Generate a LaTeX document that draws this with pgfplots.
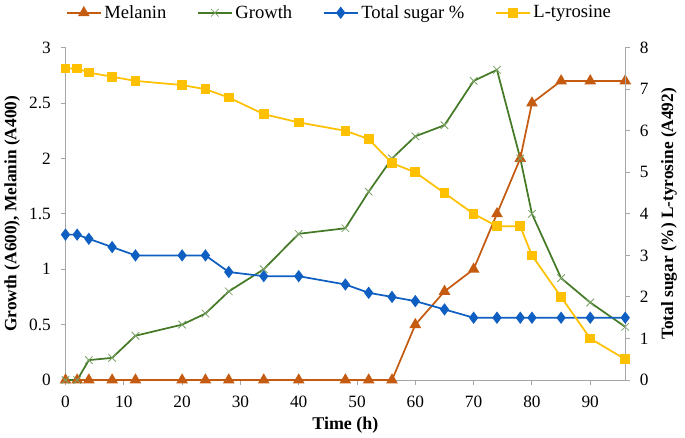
\documentclass[border=0pt]{standalone}
\usepackage{pgfplots}
\pgfplotsset{compat=1.18}
\usepackage{fontspec}
\setmainfont{Liberation Serif}

\definecolor{melc}{HTML}{C55A11}
\definecolor{growc}{HTML}{447A26}
\definecolor{sugarc}{HTML}{0F5FC2}
\definecolor{tyrc}{HTML}{FFC000}

% time (h) vs value
\pgfplotstableread{
t   mel
0   0
2   0
4   0
8   0
12  0
20  0
24  0
28  0
34  0
40  0
48  0
52  0
56  0
60  0.5
65  0.8
70  1.0
74  1.5
78  2.0
80  2.5
85  2.7
90  2.7
96  2.7
}\melanin

\pgfplotstableread{
t   g
0   0
2   0
4   0.18
8   0.2
12  0.4
20  0.5
24  0.6
28  0.8
34  1.0
40  1.32
48  1.37
52  1.7
56  2.0
60  2.2
65  2.3
70  2.7
74  2.8
78  2.0
80  1.5
85  0.92
90  0.7
96  0.48
}\growth

\pgfplotstableread{
t   s
0   3.5
2   3.5
4   3.4
8   3.2
12  3.0
20  3.0
24  3.0
28  2.6
34  2.5
40  2.5
48  2.3
52  2.1
56  2.0
60  1.9
65  1.7
70  1.5
74  1.5
78  1.5
80  1.5
85  1.5
90  1.5
96  1.5
}\sugar

\pgfplotstableread{
t   y
0   7.5
2   7.5
4   7.4
8   7.3
12  7.2
20  7.1
24  7.0
28  6.8
34  6.4
40  6.2
48  6.0
52  5.8
56  5.22
60  5.0
65  4.5
70  4.0
74  3.7
78  3.7
80  3.0
85  2.0
90  1.0
96  0.5
}\tyrosine

\begin{document}
\begin{tikzpicture}
\pgfplotsset{
  every axis/.append style={
    scale only axis, width=421pt, height=250pt,
    xmin=0, xmax=96,
    font=\fontsize{13}{15}\selectfont,
    tick align=outside, major tick length=3.5pt,
    axis line style={gray!70, line width=0.7pt},
    tick style={gray!70, line width=0.7pt},
    /pgf/number format/assume math mode=true,
    clip=false,
  },
  melst/.style={color=melc, line width=1.3pt, mark=triangle*, mark size=3.8pt},
  growst/.style={color=growc, line width=1.3pt, mark=x, mark size=4pt, mark options={color=growc!70, line width=0.6pt}},
  sugst/.style={color=sugarc, line width=1.3pt, mark=diamond*, mark size=3.6pt},
  tyrst/.style={color=tyrc, line width=1.3pt, mark=square*, mark size=3pt},
}
\begin{axis}[
  ymin=0, ymax=3,
  axis x line*=bottom, axis y line*=left,
  xtick={0,10,...,90},
  ytick={0,0.5,1,1.5,2,2.5,3},
  yticklabels={0,0.5,1,1.5,2,2.5,3},
  xticklabel style={yshift=-5pt},
  yticklabel style={xshift=-4pt},
  xlabel={\textbf{Time (h)}},
  xlabel style={font=\fontsize{13.5}{15}\selectfont},
  ylabel={\textbf{Growth (A600), Melanin (A400)}},
  legend style={at={(0.49,1.105)}, anchor=center, draw=none, fill=none,
    legend columns=4, font=\fontsize{14}{16}\selectfont,
    /tikz/every even column/.append style={column sep=21pt}},
  legend cell align=left,
  legend image code/.code={
    \draw[mark repeat=2, mark phase=2] plot coordinates {(0cm,0cm) (0.45cm,0cm) (0.9cm,0cm)};
  },
]
\addplot[melst] table[x=t, y=mel] {\melanin};
\addlegendentry{Melanin}
\addplot[growst] table[x=t, y=g] {\growth};
\addlegendentry{Growth}
\addlegendimage{sugst}
\addlegendentry{Total sugar \%}
\addlegendimage{tyrst}
\addlegendentry{L-tyrosine}
\end{axis}
\begin{axis}[
  ymin=0, ymax=8,
  axis y line*=right, axis x line=none,
  ytick={0,1,...,8},
  yticklabel style={xshift=4pt},
  ylabel={\textbf{Total sugar (\%) L-tyrosine (A492)}},
  ylabel style={inner sep=6pt},
]
\addplot[sugst] table[x=t, y=s] {\sugar};
\addplot[tyrst] table[x=t, y=y] {\tyrosine};
\end{axis}
\end{tikzpicture}
\end{document}
